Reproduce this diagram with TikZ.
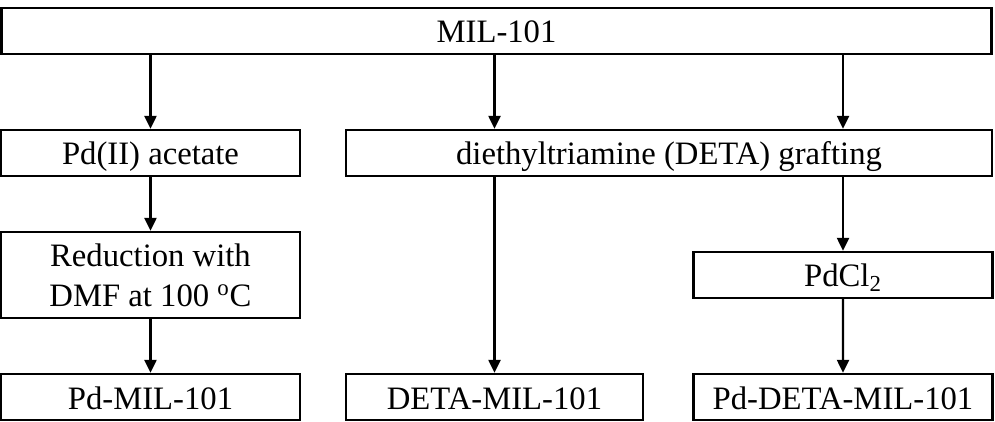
\documentclass[tikz,border=0pt]{standalone}
\usepackage{fontspec}
\setmainfont{Liberation Serif}
\usetikzlibrary{arrows.meta}

\begin{document}
\begin{tikzpicture}[
  node distance=2.44cm,
  box/.style={rectangle, draw, line width=1.4pt, minimum width=5.98cm, minimum height=0.92cm, inner sep=0pt, align=center, font=\fontsize{18.6}{22.8}\selectfont},
  onebox/.style={box, text height=0.7cm, text depth=0.22cm},
  arrow/.style={-{Triangle[length=0.26cm, width=0.24cm]}, line width=1.4pt}
]

\useasboundingbox (-9.93,0.62) rectangle (9.97,-7.82);

% Nodes
\node[onebox, minimum width=19.8cm] (mil) {MIL-101};
\node[onebox, below of=mil, xshift=-6.92cm] (acetate) {Pd(II) acetate};
\node[onebox, below of=mil, xshift=3.45cm, minimum width=12.92cm] (deta) {diethyltriamine (DETA) grafting};
\node[box, below of=acetate, minimum height=1.72cm] (reduction) {Reduction with\\DMF at 100 \textsuperscript{o}C};
\node[onebox, below of=reduction] (pdmil) {Pd-MIL-101};
\node[onebox, right of=pdmil, node distance=6.88cm, minimum width=5.94cm] (detamil) {DETA-MIL-101};
\node[onebox, below of=deta, xshift=3.48cm] (pdcl) {PdCl\textsubscript{2}};
\node[onebox, right of=detamil, node distance=6.97cm] (pddeta) {Pd-DETA-MIL-101};

% Arrows
\draw[arrow] (mil.south -| acetate) -- (acetate);
\draw[arrow] (mil.south -| detamil) -- (deta.north -| detamil);
\draw[arrow] (mil.south -| pdcl) -- (deta.north -| pdcl);
\draw[arrow] (acetate) -- (reduction);
\draw[arrow] (reduction) -- (pdmil);
\draw[arrow] (deta.south -| detamil) -- (detamil);
\draw[arrow] (deta.south -| pdcl) -- (pdcl);
\draw[arrow] (pdcl) -- (pddeta);

\end{tikzpicture}
\end{document}
